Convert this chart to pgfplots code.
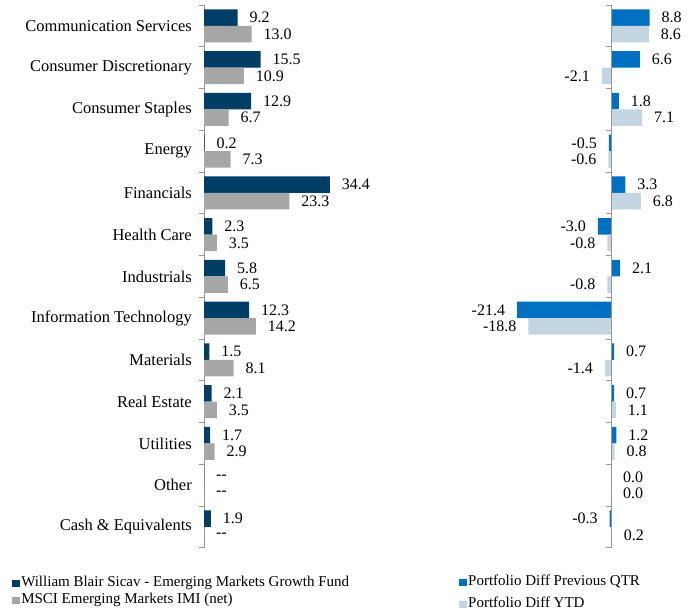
\documentclass[border=0pt]{standalone}
\usepackage{pgfplots}
\pgfplotsset{compat=1.18}
\usepackage{pgfplotstable}
\usepackage{fontspec}
\setmainfont{Liberation Serif}
\definecolor{navy}{RGB}{0,62,102}
\definecolor{midgray}{RGB}{166,166,166}
\definecolor{brightblue}{RGB}{0,112,192}
\definecolor{paleblue}{RGB}{194,213,225}
\definecolor{axisgray}{RGB}{150,150,150}
\newcommand{\dd}{{-}{-}}
\newcommand{\lb}[1]{\makebox[0pt][l]{\hspace{12pt}#1}}
\newcommand{\rb}[1]{\makebox[0pt][r]{#1\hspace{12pt}}}
\newcommand{\catfont}{\fontsize{16.5}{19}\selectfont}
\newcommand{\lblfont}{\fontsize{16}{19}\selectfont}
\newcommand{\legfont}{\fontsize{15}{17}\selectfont}

\pgfplotstableread{
y a alab b blab
0 9.2 \lb{9.2} 13.0 \lb{13.0}
1 15.5 \lb{15.5} 10.9 \lb{10.9}
2 12.9 \lb{12.9} 6.7 \lb{6.7}
3 0.2 \lb{0.2} 7.3 \lb{7.3}
4 34.4 \lb{34.4} 23.3 \lb{23.3}
5 2.3 \lb{2.3} 3.5 \lb{3.5}
6 5.8 \lb{5.8} 6.5 \lb{6.5}
7 12.3 \lb{12.3} 14.2 \lb{14.2}
8 1.5 \lb{1.5} 8.1 \lb{8.1}
9 2.1 \lb{2.1} 3.5 \lb{3.5}
10 1.7 \lb{1.7} 2.9 \lb{2.9}
11 0 \lb{\dd} 0 \lb{\dd}
12 1.9 \lb{1.9} 0 \lb{\dd}
}\lefttab

\pgfplotstableread{
y a alab b blab
0 8.8 \lb{8.8} 8.6 \lb{8.6}
1 6.6 \lb{6.6} -2.1 \rb{-2.1}
2 1.8 \lb{1.8} 7.1 \lb{7.1}
3 -0.5 \rb{-0.5} -0.6 \rb{-0.6}
4 3.3 \lb{3.3} 6.8 \lb{6.8}
5 -3.0 \rb{-3.0} -0.8 \rb{-0.8}
6 2.1 \lb{2.1} -0.8 \rb{-0.8}
7 -21.4 \rb{-21.4} -18.8 \rb{-18.8}
8 0.7 \lb{0.7} -1.4 \rb{-1.4}
9 0.7 \lb{0.7} 1.1 \lb{1.1}
10 1.2 \lb{1.2} 0.8 \lb{0.8}
11 0.0 \lb{0.0} 0.0 \lb{0.0}
12 -0.3 \rb{-0.3} 0.2 \lb{0.2}
}\righttab

\pgfplotsset{
  frame/.style={
    scale only axis,
    height=542.75pt,
    ymin=-0.5, ymax=12.5,
    y dir=reverse,
    clip=false,
    axis x line=none,
    axis y line*=left,
    axis line style={-},
    y axis line style={draw=axisgray, line width=0.8pt},
    tick align=outside,
    major tick length=0pt,
    extra y ticks={-0.5,0.5,...,12.5},
    extra y tick labels={},
    extra y tick style={major tick length=5pt, tick style={draw=axisgray, line width=0.8pt}},
  },
  bars/.style={
    xbar,
    bar width=16.5pt,
    point meta=explicit symbolic,
    nodes near coords={\pgfplotspointmeta},
    nodes near coords style={font=\lblfont, inner sep=0pt, anchor=center},
    legend style={draw=none, fill=none, anchor=north west, font=\legfont,
      inner sep=0pt, nodes={inner xsep=1.5pt, inner ysep=0pt, text height=10pt, text depth=3pt}},
    legend cell align=left,
  },
  sqleg/.style={legend image code/.code={\fill[##1] (0pt,-3.5pt) rectangle (7.5pt,3.5pt);}},
}

\begin{document}
\begin{tikzpicture}
\useasboundingbox (0,0) rectangle (688pt,613pt);
\begin{axis}[frame, bars,
  at={(204pt,608pt)}, anchor=north west,
  width=146.4pt, xmin=0, xmax=40,
  ytick={0,...,12},
  yticklabels={Communication Services,Consumer Discretionary,Consumer Staples,Energy,Financials,Health Care,Industrials,Information Technology,Materials,Real Estate,Utilities,Other,Cash \& Equivalents},
  yticklabel style={font=\catfont, inner sep=0pt, xshift=-12pt},
  legend style={at={(-1.311,-0.053)}, row sep=4pt},
]
\addplot[fill=navy, draw=none, bar shift=8.25pt, sqleg]
  table[x=a, y=y, meta=alab] {\lefttab};
\addlegendentry{William Blair Sicav - Emerging Markets Growth Fund}
\addplot[fill=midgray, draw=none, bar shift=-8.25pt, sqleg]
  table[x=b, y=y, meta=blab] {\lefttab};
\addlegendentry{MSCI Emerging Markets IMI (net)}
\end{axis}

\begin{axis}[bars, hide axis,
  scale only axis, height=542.75pt, ymin=-0.5, ymax=12.5, y dir=reverse, clip=false,
  at={(501.25pt,608pt)}, anchor=north west,
  width=153.65pt, xmin=-25, xmax=10,
  legend style={at={(-0.275,-0.051)}, row sep=9pt},
]
\addplot[fill=brightblue, draw=none, bar shift=8.25pt, sqleg]
  table[x=a, y=y, meta=alab] {\righttab};
\addlegendentry{Portfolio Diff Previous QTR}
\addplot[fill=paleblue, draw=none, bar shift=-8.25pt, sqleg]
  table[x=b, y=y, meta=blab] {\righttab};
\addlegendentry{Portfolio Diff YTD}
\end{axis}

\begin{axis}[frame,
  at={(611pt,608pt)}, anchor=north west,
  width=40pt, xmin=0, xmax=1,
  ytick=\empty,
]
\end{axis}
\end{tikzpicture}
\end{document}
